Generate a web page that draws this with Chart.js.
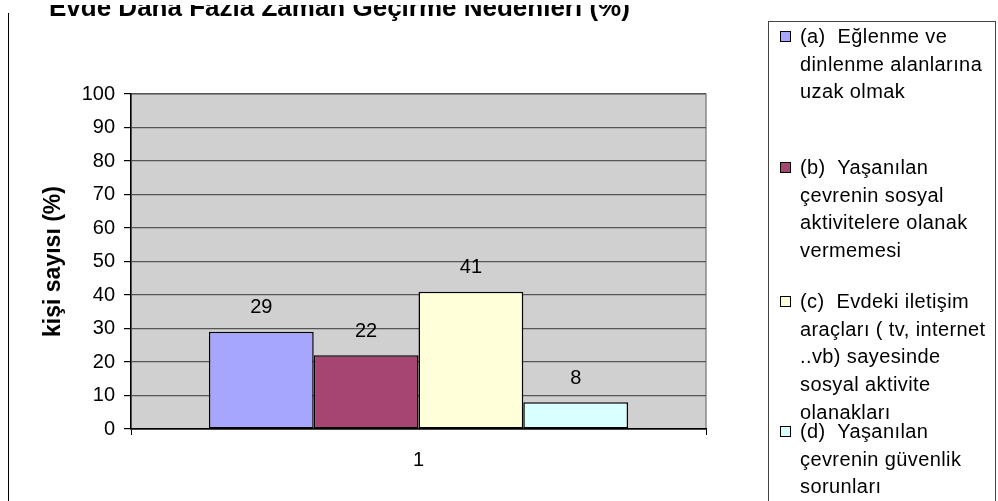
<!DOCTYPE html>
<html>
<head>
<meta charset="utf-8">
<script src="https://cdn.jsdelivr.net/npm/chart.js@4.4.1/dist/chart.umd.min.js"></script>
<style>
html,body{margin:0;padding:0;width:998px;height:501px;overflow:hidden;background:#fff;font-family:"Liberation Sans",Arial,sans-serif;color:#000;}
#cv{position:absolute;left:0;top:0;}
#vline{position:absolute;left:8px;top:13px;width:1px;height:488px;background:#000;}
#tclip{position:absolute;left:0;top:5px;width:760px;height:30px;overflow:hidden;}
#title{position:absolute;left:49px;top:-11px;font-weight:bold;font-size:26px;line-height:26px;white-space:pre;}
#legend{position:absolute;left:768px;top:21px;width:228px;height:530px;border:1px solid #444;box-sizing:border-box;}
.item{position:absolute;left:0;width:226px;}
.mark{position:absolute;left:11px;width:9px;height:9px;border:1px solid #000;}
.txt{position:absolute;left:31px;font-size:20px;line-height:27.7px;letter-spacing:0.4px;white-space:pre;}
</style>
</head>
<body>
<canvas id="cv" width="998" height="501"></canvas>
<div id="vline"></div>
<div id="tclip"><div id="title"></div></div>
<div id="legend"></div>
<script>
// ---- data ----
const chartTitle = 'Evde Daha Fazla Zaman Geçirme Nedenleri (%)';
const yAxisTitle = 'kişi sayısı (%)';
const categories = ['1'];
const seriesA = [29];
const seriesB = [22];
const seriesC = [41];
const seriesD = [8];
const seriesLines = [
  ['(a)  Eğlenme ve', 'dinlenme alanlarına', 'uzak olmak'],
  ['(b)  Yaşanılan', 'çevrenin sosyal', 'aktivitelere olanak', 'vermemesi'],
  ['(c)  Evdeki iletişim', 'araçları ( tv, internet', '..vb) sayesinde', 'sosyal aktivite', 'olanakları'],
  ['(d)  Yaşanılan', 'çevrenin güvenlik', 'sorunları']
];
const yTickMin = 0, yTickMax = 100, yTickStep = 10;

// ---- styles ----
const colors = ['#a6a6ff', '#a64472', '#ffffd9', '#d9ffff'];
const allSeries = [seriesA, seriesB, seriesC, seriesD];

document.getElementById('title').textContent = chartTitle;

// legend (HTML, multi-line)
const legendTops = [1, 132, 266, 396];
const legend = document.getElementById('legend');
seriesLines.forEach((lines, i) => {
  const it = document.createElement('div');
  it.className = 'item';
  it.style.top = legendTops[i] + 'px';
  const m = document.createElement('div');
  m.className = 'mark';
  m.style.top = (13.85 - 5.5) + 'px';
  m.style.background = colors[i];
  const t = document.createElement('div');
  t.className = 'txt';
  t.style.top = '0px';
  lines.forEach((ln, k) => {
    if (k) t.appendChild(document.createElement('br'));
    t.appendChild(document.createTextNode(ln));
  });
  it.appendChild(m); it.appendChild(t);
  legend.appendChild(it);
});

const bgPlugin = {
  id: 'plotBg',
  beforeDraw(chart) {
    const {ctx, chartArea: a} = chart;
    ctx.save();
    ctx.fillStyle = '#d0d0d0';
    ctx.fillRect(a.left, a.top, a.right - a.left, a.bottom - a.top);
    ctx.strokeStyle = '#8a8a8a';
    ctx.lineWidth = 1.5;
    ctx.strokeRect(a.left, a.top, a.right - a.left, a.bottom - a.top);
    ctx.restore();
  }
};

const labelPlugin = {
  id: 'valLabels',
  afterDatasetsDraw(chart) {
    const ctx = chart.ctx;
    ctx.save();
    ctx.font = '20px "Liberation Sans", Arial, sans-serif';
    ctx.fillStyle = '#000';
    ctx.textAlign = 'center';
    ctx.textBaseline = 'middle';
    chart.data.datasets.forEach((ds, i) => {
      const meta = chart.getDatasetMeta(i);
      meta.data.forEach((bar, j) => {
        ctx.fillText(String(ds.data[j]), bar.x, bar.y - 24);
      });
    });
    ctx.restore();
  }
};

new Chart(document.getElementById('cv'), {
  type: 'bar',
  data: {
    labels: categories,
    datasets: allSeries.map((s, i) => ({
      label: seriesLines[i].join(' '),
      data: s,
      backgroundColor: colors[i],
      borderColor: '#000',
      borderWidth: 1.5,
      borderSkipped: false,
      categoryPercentage: 0.729,
      barPercentage: 1.0
    }))
  },
  options: {
    responsive: false,
    animation: false,
    devicePixelRatio: 1,
    layout: { padding: { top: 94, right: 292, left: 0, bottom: 0 } },
    plugins: {
      legend: { display: false },
      title: { display: false },
      tooltip: { enabled: false }
    },
    scales: {
      x: {
        afterFit(s) { s.height = 72; },
        grid: { display: true, offset: true, drawOnChartArea: false, drawTicks: true, tickLength: 6, color: '#000', tickColor: '#000' },
        border: { display: true, color: '#000', width: 1.5 },
        ticks: { color: '#000', padding: 13, font: { family: '"Liberation Sans", Arial, sans-serif', size: 20 } }
      },
      y: {
        min: yTickMin, max: yTickMax,
        afterFit(s) { s.width = 131; },
        ticks: { stepSize: yTickStep, color: '#000', padding: 9, font: { family: '"Liberation Sans", Arial, sans-serif', size: 20 } },
        grid: { color: '#555', lineWidth: 1.2, tickLength: 7, tickColor: '#000', drawTicks: true },
        border: { display: true, color: '#000', width: 1.5 },
        title: { display: true, text: yAxisTitle, color: '#000', padding: { top: 40, bottom: 0 }, font: { family: '"Liberation Sans", Arial, sans-serif', size: 23, weight: 'bold' } }
      }
    }
  },
  plugins: [bgPlugin, labelPlugin]
});
</script>
</body>
</html>
